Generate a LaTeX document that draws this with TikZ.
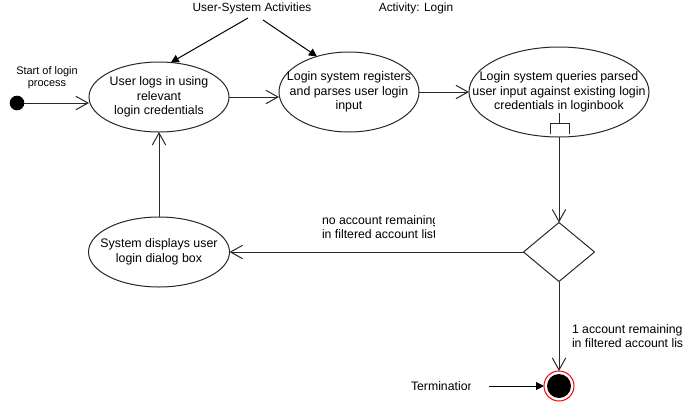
\documentclass[tikz,border=0pt]{standalone}
\usepackage{fontspec}
\setmainfont{Liberation Sans}
\usetikzlibrary{shapes.geometric,arrows.meta}

\definecolor{actline}{RGB}{40,40,40}
\definecolor{acttext}{RGB}{0,0,0}
\definecolor{endring}{RGB}{255,0,0}

\begin{document}
\begin{tikzpicture}[
  x=0.75pt,
  y=-0.75pt,
  every node/.style={inner sep=0pt, outer sep=0pt},
  note/.style={font=\fontsize{9.2}{10.5}\selectfont, text=acttext, align=center},
  sidenote/.style={note, align=left, anchor=west},
  action/.style={ellipse, draw=actline, line width=0.75pt, fill=white},
  actiontext/.style={font=\fontsize{9.3}{10.9}\selectfont, text=acttext, align=center},
  decision/.style={diamond, draw=actline, line width=0.75pt, minimum width=53.25pt, minimum height=44.25pt},
  startdot/.style={circle, fill=black, minimum size=11pt},
  enddot/.style={circle, draw=endring, line width=0.75pt, fill=white, minimum size=22.5pt},
  flow/.style={draw=actline, line width=0.75pt, -{Straight Barb[length=9pt, width=10pt]}},
  pointer/.style={draw=black, line width=0.75pt, -{Triangle[length=6pt, width=6pt]}}
]

  \path[use as bounding box] (0,0) rectangle (690,404);

  % Titles on top.
  \node[note, font=\fontsize{8.9}{10}\selectfont] (actors) at (252,8) {User-System Activities};
  \node[note, font=\fontsize{8.9}{10}\selectfont] (title) at (416,8) {Activity: Login};

  % Initial node.
  \node[startdot] (start) at (17,103) {};
  \node[note, font=\fontsize{8.2}{9}\selectfont] (startnote) at (47,78) {Start of login\\process};

  % Action states.
  \node[action, minimum width=105pt, minimum height=52.5pt] (login) at (159,97) {};
  \node[actiontext] at (login) {User logs in using\\relevant\\login credentials};
  \node[action, minimum width=105pt, minimum height=60pt] (parse) at (349,92) {};
  \node[actiontext] at (parse) {Login system registers\\and parses user login\\input};
  \node[action, minimum width=135pt, minimum height=67.5pt] (query) at (559,92) {};
  \node[actiontext] at (query) {Login system queries parsed\\user input against existing login\\credentials in loginbook};
  \draw[actline, line width=0.75pt] (559,113) -- (559,123) (550,134) -- (550,123) -- (569,123) -- (569,134);
  \node[action, minimum width=105.75pt, minimum height=52.5pt] (dialog) at (159,252) {};
  \node[actiontext] at (dialog) {System displays user\\login dialog box};

  % Decision and final node.
  \node[decision] (check) at (559,252) {};
  \node[enddot] (finish) at (559,386) {};
  \fill[black] (finish.center) circle (9pt);

  % Control flow.
  \draw[flow] (start) -- (start -| login.west);
  \draw[flow] (login.east) -- (login.east -| parse.west);
  \draw[flow] (parse.east) -- (query.west);
  \draw[flow] (query) -- (check);
  \draw[flow] (check) -- (dialog);
  \draw[flow] (dialog) -- (login);
  \draw[flow] (check) -- (finish);

  % Guards, cut off by their boxes.
  \begin{scope}
    \clip (322,210) rectangle (434,245);
    \node[sidenote] (nonote) at (322,227) {no account remaining\\in filtered account list};
  \end{scope}
  \begin{scope}
    \clip (572,320) rectangle (682,355);
    \node[sidenote] (onenote) at (572,336.5) {1 account remaining\\in filtered account list};
  \end{scope}

  % Pointers from the notes.
  \coordinate (actorsL) at (248,18);
  \coordinate (actorsR) at (263,20);
  \draw[pointer] (actorsL) -- (login.71);
  \draw[pointer] (actorsR) -- (parse.132);
  \begin{scope}
    \clip (405,376) rectangle (470,396);
    \node[sidenote] (termnote) at (411,386) {Termination};
  \end{scope}
  \coordinate (termtail) at (489,386);
  \draw[pointer] (termtail) -- (finish.west);

\end{tikzpicture}
\end{document}
